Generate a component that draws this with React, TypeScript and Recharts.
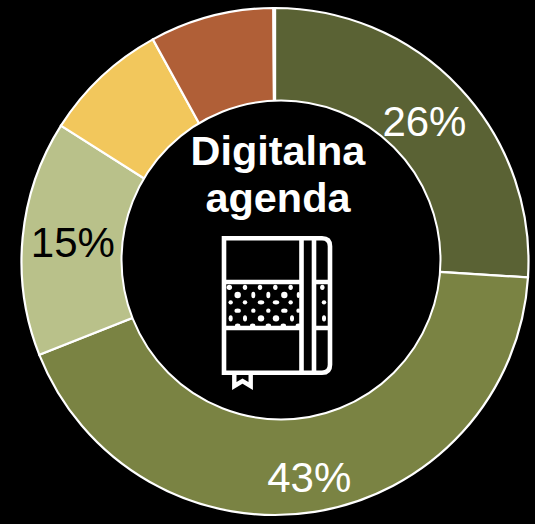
import React from "react";
import { PieChart, Pie, Cell } from "recharts";

const categories = ["A", "B", "C", "D", "E", "F"];
const values = [26, 43, 15, 8, 7.9, 0.1];
const colors = ["#5A6234", "#7A8343", "#B9C18A", "#F2C75C", "#B05F37", "#B05F37"];
const labels = ["26%", "43%", "15%", "", "", ""];
const labelRadius = [205, 219, 203, 0, 0, 0];
const titleLines = ["Digitalna", "agenda"];
const data = categories.map((name, i) => ({ name, value: values[i] }));

const RAD = Math.PI / 180;
// x, y (in 3x crop units), rx, ry
const dots: [number, number, number, number][] = [
  [88,202,2.7,2.7],[135,202,2.2,2.7],[180,202,2.2,2.7],[226,202,2.2,2.7],[272,202,2.2,2.7],[367,202,2.2,2.7],
  [113,225,3.2,3.2],[160,225,2,3.2],[205,225,2,3.2],[253,225,3.2,3.2],[295,225,1.6,3],
  [92,247,2.2,2.2],[135,247,2.2,2.2],[183,247,3.2,2.2],[228,247,3.2,2.2],[272,247,2.2,2.2],[372,247,2.2,2.2],
  [113,272,3.2,2.2],[160,272,2.2,2.2],[205,272,2.2,2.2],[253,272,3.2,2.2],[295,272,2,2.2],
  [92,295,2,3.2],[135,295,2,3.2],[183,295,3.2,3.2],[228,295,3.2,3.2],[276,295,2,3.2],[372,295,2,3.2],
  [113,317,2.7,2.2],[158,317,2.7,2.2],[205,317,2.7,2.2],[250,317,2.7,2.2],[295,317,2.7,2.2],
];

function renderLabel(p: any) {
  const i = p.index;
  if (!labels[i]) return null;
  const r = labelRadius[i];
  const x = p.cx + r * Math.cos(-p.midAngle * RAD);
  const y = p.cy + r * Math.sin(-p.midAngle * RAD);
  return (
    <text x={x} y={y} textAnchor="middle" dominantBaseline="central"
      fontFamily="Liberation Sans" fontSize={42} fill={i === 2 ? "#000" : "#fff"}>
      {labels[i]}
    </text>
  );
}

export default function App() {
  return (
    <div style={{ position: "absolute", left: 0, top: 0, width: 535, height: 524, background: "#000", overflow: "hidden" }}>
      <PieChart width={535} height={524} margin={{ top: 0, right: 0, bottom: 0, left: 0 }}>
        <Pie data={data} dataKey="value" cx={275} cy={261.5} innerRadius={140} outerRadius={253.5}
          startAngle={90} endAngle={-270} stroke="#fff" strokeWidth={2.2} paddingAngle={0}
          label={false} labelLine={false} isAnimationActive={false}>
          {data.map((d, i) => <Cell key={d.name} fill={colors[i]} />)}
        </Pie>
      </PieChart>
      <svg width={535} height={524} style={{ position: "absolute", left: 0, top: 0 }}>
        <circle cx={281} cy={260} r={159.5} fill="#000" stroke="#fff" strokeWidth={2} />
      </svg>
      <div style={{ position: "absolute", left: 0, top: 0 }}>
        <PieChart width={535} height={524} margin={{ top: 0, right: 0, bottom: 0, left: 0 }}>
          <Pie data={data} dataKey="value" cx={275} cy={261.5} innerRadius={140} outerRadius={253.5}
            startAngle={90} endAngle={-270} fill="none" stroke="none"
            label={renderLabel} labelLine={false} isAnimationActive={false} />
        </PieChart>
      </div>
      <svg width={535} height={524} style={{ position: "absolute", left: 0, top: 0 }}>
        {titleLines.map((t, i) => (
          <text key={t} x={278} y={165 + i * 47} textAnchor="middle" fontFamily="Liberation Sans"
            fontWeight="bold" fontSize={41.4} fill="#fff">{t}</text>
        ))}
        <g fill="#fff">
          {dots.map(([x, y, rx, ry], i) => (
            <ellipse key={i} cx={200 + x / 3} cy={220 + y / 3} rx={rx} ry={ry} />
          ))}
        </g>
        <g fill="none" stroke="#fff" strokeWidth={4.6}>
          <path d="M224 238.3 H322 Q330 238.3 330 246.3 V364.7 Q330 372.7 322 372.7 H224 Z" />
          <path d="M301.5 238 V373 M314 238 V373 M224 282 H301.5 M224 328 H301.5 M314 282 H330 M314 328 H330" />
          <path d="M234.3 373 V386 L242.5 381 L250.7 386 V373" strokeWidth={4.4} />
        </g>
      </svg>
    </div>
  );
}
